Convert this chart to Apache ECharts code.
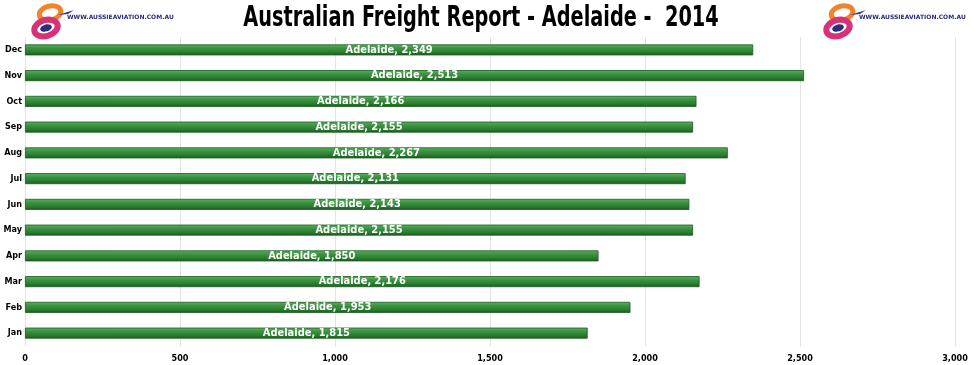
<!DOCTYPE html>
<html><head><meta charset="utf-8">
<script src="https://cdn.jsdelivr.net/npm/echarts@6/dist/echarts.min.js"></script>
<style>html,body{margin:0;padding:0;background:#fff}#c{width:980px;height:365px}</style>
</head><body><div id="c"></div>
<script>
const categories = ['Jan','Feb','Mar','Apr','May','Jun','Jul','Aug','Sep','Oct','Nov','Dec'];
const seriesName = 'Adelaide';
const values = [1815, 1953, 2176, 1850, 2155, 2143, 2131, 2267, 2155, 2166, 2513, 2349];
const xTicks = [0, 500, 1000, 1500, 2000, 2500, 3000];

const COND = '"DejaVu Sans Condensed", Roboto, sans-serif';
const chart = echarts.init(document.getElementById('c'));
const logo = (x) => ({
  type: 'group', x: x, y: 3,
  children: [
    {type: 'ellipse', shape: {cx: 20, cy: 10, rx: 11, ry: 7}, rotation: 0.25, originX: 20, originY: 10,
      style: {fill: 'none', stroke: '#f0842c', lineWidth: 5}},
    {type: 'ellipse', shape: {cx: 16, cy: 25, rx: 12, ry: 8}, rotation: 0.3, originX: 16, originY: 25,
      style: {fill: 'none', stroke: '#d9307a', lineWidth: 6}},
    {type: 'ellipse', shape: {cx: 16, cy: 25, rx: 6, ry: 3.5}, rotation: 0.3, originX: 16, originY: 25,
      style: {fill: '#2b2f7d'}},
    {type: 'polygon', shape: {points: [[28,12],[44,7],[38,11]]}, style: {fill: '#3a2f8a'}},
    {type: 'text', x: 37, y: 11, style: {text: 'WWW.AUSSIEAVIATION.COM.AU', font: 'bold 6px "DejaVu Sans"', fill: '#2a2a7a'}}
  ]
});
chart.setOption({
  animation: false,
  graphic: [logo(30), logo(822),
    {type: 'text', x: 481, y: 4, scaleX: 0.74, style: {text: 'Australian Freight Report - Adelaide -  2014',
      textAlign: 'center', font: 'bold 29px ' + COND, fill: '#000'}}],
  grid: {left: 25, right: 25, top: 37, bottom: 19, containLabel: false, outerBoundsMode: 'none'},
  xAxis: {type: 'value', min: 0, max: 3000, interval: 500,
    axisLine: {show: false}, axisTick: {show: false},
    splitLine: {lineStyle: {color: '#e3e3e3'}},
    axisLabel: {fontFamily: COND, fontWeight: 'bold', fontSize: 9, color: '#000', margin: 8,
      formatter: v => v.toLocaleString('en-US')}},
  yAxis: {type: 'category', data: categories,
    axisLine: {show: false}, axisTick: {show: false},
    axisLabel: {fontFamily: COND, fontWeight: 'bold', fontSize: 9, color: '#000', margin: 3}},
  series: [{
    name: seriesName, type: 'bar', data: values, barWidth: 11,
    itemStyle: {
      color: new echarts.graphic.LinearGradient(0,0,0,1,[
        {offset:0,color:'#5fb060'},{offset:0.35,color:'#3a9440'},{offset:0.7,color:'#2b7d31'},{offset:1,color:'#1c5a20'}]),
      borderColor: '#1b5a1f', borderWidth: 0.8
    },
    label: {show: true, position: 'inside', color: '#fff', fontFamily: COND, fontWeight: 'bold', fontSize: 11,
      formatter: p => seriesName + ', ' + p.value.toLocaleString('en-US')}
  }]
});
</script></body></html>
